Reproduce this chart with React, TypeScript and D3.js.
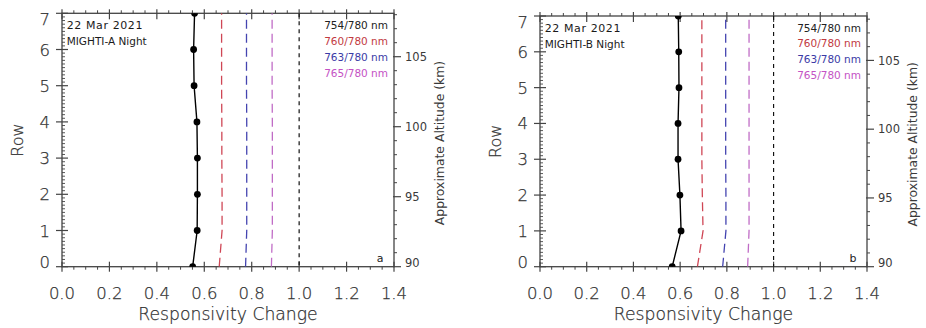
import React from "react";
import * as d3 from "d3";

// Detector rows and axis ticks
const ROWS = [0, 1, 2, 3, 4, 5, 6, 7];
const X_TICKS = [0, 0.2, 0.4, 0.6, 0.8, 1.0, 1.2, 1.4];
const X_TICK_LABELS = ["0.0", "0.2", "0.4", "0.6", "0.8", "1.0", "1.2", "1.4"];
const ALT_TICKS = [90, 95, 100, 105];
const ALT_TICK_LABELS = ["90", "95", "100", "105"];

// Legend entries
const LEGEND_LABELS = ["754/780 nm", "760/780 nm", "763/780 nm", "765/780 nm"];
const LEGEND_COLORS = ["#222222", "#c23a3f", "#3b3ba6", "#c452c4"];
const LINE_COLORS = ["#111111", "#cf4655", "#4444b0", "#c06cc6"];
const DATE_LABEL = "22 Mar 2021";
const UNITY = 1.0;

// MIGHTI-A responsivity ratios per row
const A_754 = [0.551, 0.57, 0.571, 0.571, 0.569, 0.557, 0.555, 0.559];
const A_760 = [0.663, 0.675, 0.675, 0.674, 0.674, 0.673, 0.673, 0.673];
const A_763 = [0.774, 0.779, 0.779, 0.779, 0.779, 0.778, 0.778, 0.778];
const A_765 = [0.883, 0.887, 0.887, 0.887, 0.887, 0.886, 0.886, 0.886];

// MIGHTI-B responsivity ratios per row
const B_754 = [0.566, 0.604, 0.599, 0.591, 0.591, 0.595, 0.594, 0.592];
const B_760 = [0.674, 0.698, 0.695, 0.693, 0.693, 0.693, 0.693, 0.693];
const B_763 = [0.782, 0.796, 0.796, 0.795, 0.795, 0.795, 0.795, 0.795];
const B_765 = [0.889, 0.895, 0.895, 0.895, 0.895, 0.895, 0.895, 0.895];

const FONT = "'DejaVu Sans', sans-serif";
const AXIS = "#444";
const BIG_LABEL = "#333";
const THIN = 200;

type Frame = { left: number; right: number; top: number; bottom: number };

type PanelProps = {
  id: string;
  frame: Frame;
  altMax: number;
  ratio754: number[];
  ratio760: number[];
  ratio763: number[];
  ratio765: number[];
  instrument: string;
  letter: string;
};

function Panel({ id, frame, altMax, ratio754, ratio760, ratio763, ratio765, instrument, letter }: PanelProps) {
  const { left: L, right: R, top: T, bottom: B } = frame;
  const x = d3.scaleLinear().domain([0, 1.4]).range([L, R]);
  const y = d3.scaleLinear().domain([0, 7]).range([B, T]);
  const alt = d3.scaleLinear().domain([90, altMax]).range([B, T]);

  const line = d3
    .line<number>()
    .x((v) => x(v))
    .y((_, i) => y(ROWS[i]));

  const minorX = d3.range(0, 1.4001, 0.05).filter((v) => Math.abs(v / 0.2 - Math.round(v / 0.2)) > 1e-6);
  const minorRow = d3.range(0, 7.0001, 0.1).filter((v) => Math.abs(v - Math.round(v)) > 1e-6);
  const minorAlt = d3.range(90, altMax, 1).filter((v) => v % 5 !== 0);

  const clipId = `clip-${id}`;
  const rowLabelY = (r: number) => Math.min(Math.max(y(r), T + 5.5), B - 4.5);
  const altLabelY = (a: number) => Math.min(alt(a), B - 3.5);

  return (
    <g>
      <defs>
        <clipPath id={clipId}>
          <rect x={L} y={T} width={R - L} height={B - T} />
        </clipPath>
      </defs>

      {/* frame */}
      <rect x={L} y={T} width={R - L} height={B - T} fill="none" stroke={AXIS} strokeWidth={1.3} />

      {/* bottom and top ticks */}
      {X_TICKS.map((v) => (
        <g key={`xt${v}`}>
          <line x1={x(v)} x2={x(v)} y1={B - 5} y2={B + 5} stroke={AXIS} strokeWidth={1.2} />
          <line x1={x(v)} x2={x(v)} y1={T - 4} y2={T + 6} stroke={AXIS} strokeWidth={1.2} />
        </g>
      ))}
      {minorX.map((v) => (
        <g key={`xm${v}`}>
          <line x1={x(v)} x2={x(v)} y1={B} y2={B + 3} stroke={AXIS} strokeWidth={1} />
          <line x1={x(v)} x2={x(v)} y1={T - 3} y2={T} stroke={AXIS} strokeWidth={1} />
        </g>
      ))}

      {/* row axis ticks */}
      {ROWS.map((r) => (
        <line key={`yt${r}`} x1={L - 6} x2={L + 6} y1={y(r)} y2={y(r)} stroke={AXIS} strokeWidth={1.2} />
      ))}
      {minorRow.map((r) => (
        <line key={`ym${r}`} x1={L} x2={L + 3} y1={y(r)} y2={y(r)} stroke={AXIS} strokeWidth={0.9} />
      ))}

      {/* altitude axis ticks */}
      {ALT_TICKS.map((a) => (
        <line key={`at${a}`} x1={R - 1} x2={R + 7} y1={alt(a)} y2={alt(a)} stroke={AXIS} strokeWidth={1.2} />
      ))}
      {minorAlt.map((a) => (
        <line key={`am${a}`} x1={R} x2={R + 3} y1={alt(a)} y2={alt(a)} stroke={AXIS} strokeWidth={1} />
      ))}

      {/* data */}
      <g clipPath={`url(#${clipId})`}>
        <line x1={x(UNITY)} x2={x(UNITY)} y1={T} y2={B} stroke={LINE_COLORS[0]} strokeWidth={1.2} strokeDasharray="4,4" />
        <path d={line(ratio760) || ""} fill="none" stroke={LINE_COLORS[1]} strokeWidth={1.3} strokeDasharray="9,5" />
        <path d={line(ratio763) || ""} fill="none" stroke={LINE_COLORS[2]} strokeWidth={1.3} strokeDasharray="9,5" />
        <path d={line(ratio765) || ""} fill="none" stroke={LINE_COLORS[3]} strokeWidth={1.3} strokeDasharray="9,5" />
        <path d={line(ratio754) || ""} fill="none" stroke="#000" strokeWidth={1.4} />
        {ratio754.map((v, i) => (
          <circle key={`pt${i}`} cx={x(v)} cy={y(ROWS[i])} r={3.4} fill="#000" />
        ))}
      </g>

      {/* text is grouped in a translucent layer so glyphs get grey antialiasing */}
      <g opacity={0.995}>
        {X_TICKS.map((v, i) => (
          <text key={`xl${v}`} x={x(v)} y={B + 32} textAnchor="middle" fontSize={16.5} fontWeight={THIN} fill={BIG_LABEL} stroke={BIG_LABEL} strokeWidth={0.25} fontFamily={FONT}>
            {X_TICK_LABELS[i]}
          </text>
        ))}
        {ROWS.map((r) => (
          <text key={`yl${r}`} x={L - 12} y={rowLabelY(r) + 6} textAnchor="end" fontSize={16.5} fontWeight={THIN} fill={BIG_LABEL} stroke={BIG_LABEL} strokeWidth={0.25} fontFamily={FONT}>
            {String(r)}
          </text>
        ))}
        {ALT_TICKS.map((a, i) => (
          <text key={`al${a}`} x={R + 11} y={altLabelY(a) + 4.2} textAnchor="start" fontSize={11.5} fill="#3a3a3a" fontFamily={FONT}>
            {ALT_TICK_LABELS[i]}
          </text>
        ))}

        <text x={(L + R) / 2} y={B + 53} textAnchor="middle" fontSize={17.2} fontWeight={THIN} fill={BIG_LABEL} stroke={BIG_LABEL} strokeWidth={0.25} fontFamily={FONT}>
          Responsivity Change
        </text>
        <text
          transform={`translate(${L - 45},${(T + B) / 2}) rotate(-90)`}
          textAnchor="middle"
          dy="0.36em"
          fontSize={16}
          fontWeight={THIN}
          fill={BIG_LABEL}
          stroke={BIG_LABEL}
          strokeWidth={0.25}
          fontFamily={FONT}
        >
          Row
        </text>
        <text
          transform={`translate(${R + 45.5},${(T + B) / 2 + 3}) rotate(-90)`}
          textAnchor="middle"
          dy="0.36em"
          fontSize={12.4}
          fill="#3a3a3a"
          fontFamily={FONT}
        >
          Approximate Altitude (km)
        </text>

        <text x={L + 4.7} y={T + 16} fontSize={11} letterSpacing={0.6} fill="#1a1a1a" fontFamily={FONT}>
          {DATE_LABEL}
        </text>
        <text x={L + 4.7} y={T + 32} fontSize={10.5} fill="#1a1a1a" fontFamily={FONT}>
          {instrument}
        </text>
        {LEGEND_LABELS.map((s, i) => (
          <text key={s} x={R - 6} y={T + 15.5 + i * 15.9} textAnchor="end" fontSize={10.5} fill={LEGEND_COLORS[i]} fontFamily={FONT}>
            {s}
          </text>
        ))}
        <text x={R - 14} y={B - 4.5} textAnchor="middle" fontSize={11} fill="#222" fontFamily={FONT}>
          {letter}
        </text>
      </g>
    </g>
  );
}

export default function App() {
  return (
    <svg width={926} height={328} style={{ position: "absolute", left: 0, top: 0, background: "#fff" }}>
      <rect width={926} height={328} fill="#fff" />
      <Panel
        id="a"
        frame={{ left: 62, right: 394, top: 13.3, bottom: 266.7 }}
        altMax={108.1}
        ratio754={A_754}
        ratio760={A_760}
        ratio763={A_763}
        ratio765={A_765}
        instrument="MIGHTI-A Night"
        letter="a"
      />
      <Panel
        id="b"
        frame={{ left: 540, right: 867, top: 16, bottom: 266.7 }}
        altMax={108.23}
        ratio754={B_754}
        ratio760={B_760}
        ratio763={B_763}
        ratio765={B_765}
        instrument="MIGHTI-B Night"
        letter="b"
      />
    </svg>
  );
}
